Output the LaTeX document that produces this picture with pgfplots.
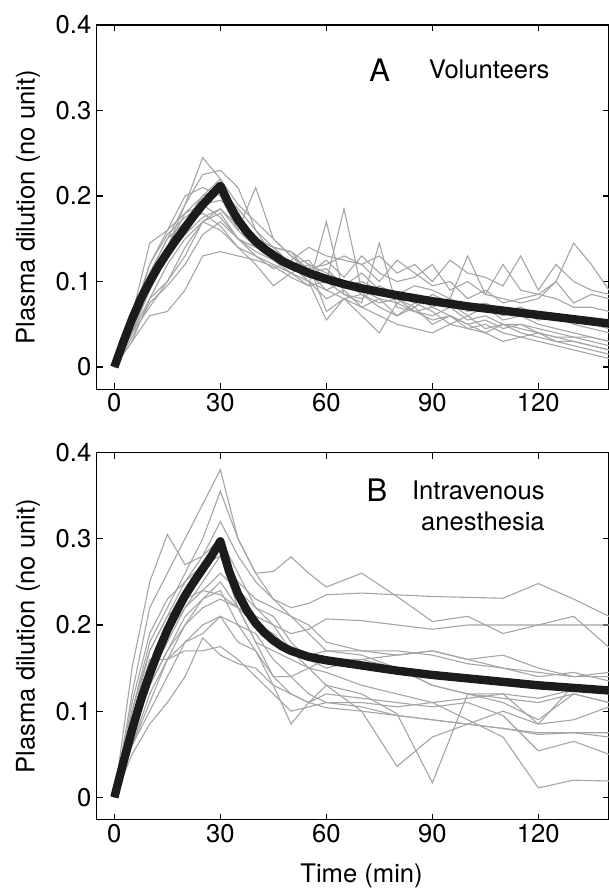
\documentclass[border=0pt]{standalone}
\usepackage{fontspec}
\setmainfont{TeX Gyre Heros}
\usepackage{pgfplots}
\usepackage{pgfplotstable}
\pgfplotsset{compat=1.18}

\definecolor{trace}{RGB}{165,165,165}
\definecolor{model}{RGB}{28,28,28}

% individual subjects, panel A (volunteers)
\pgfplotstableread{
t a1 a2 a3 a4 a5 a6 a7 a8 a9 a10 a11 a12 a13 a14
0 0 0 0 0 0 0 0 0 0 0 0 0 0 0
5 .06 .05 .04 .03 .05 .04 .06 .04 .05 .03 .05 .035 .06 .045
10 .11 .10 .09 .06 .12 .08 .145 .07 .10 .08 .11 .075 .12 .09
15 .15 .14 .13 .065 .16 .10 .16 .10 .14 .12 .15 .095 .155 .13
20 .19 .19 .17 .09 .20 .14 .18 .13 .18 .15 .17 .12 .175 .155
25 .245 .225 .20 .13 .21 .17 .19 .17 .20 .17 .18 .155 .19 .175
30 .22 .23 .22 .135 .20 .185 .195 .18 .21 .16 .165 .17 .175 .185
35 .17 .21 .19 .13 .16 .16 .18 .15 .185 .14 .14 .15 .15 .165
40 .15 .16 .17 .125 .14 .21 .15 .13 .16 .12 .13 .135 .14 .15
45 .14 .14 .15 .118 .13 .15 .14 .12 .13 .095 .115 .125 .13 .14
50 .12 .12 .13 .105 .12 .13 .135 .11 .12 .11 .125 .11 .12 .135
55 .10 .105 .115 .095 .10 .11 .11 .095 .125 .12 .14 .10 .11 .12
60 .09 .10 .12 .10 .08 .09 .125 .17 .10 .065 .13 .055 .115 .11
65 .08 .095 .13 .085 .09 .10 .105 .085 .185 .08 .125 .08 .095 .10
70 .085 .11 .12 .08 .07 .085 .13 .075 .09 .07 .12 .06 .10 .095
75 .07 .09 .10 .095 .08 .075 .11 .145 .08 .06 .13 .04 .09 .09
80 .06 .08 .125 .085 .06 .08 .10 .07 .075 .05 .11 .075 .085 .085
85 .075 .07 .11 .075 .07 .065 .105 .065 .085 .045 .12 .065 .095 .08
90 .065 .085 .095 .08 .05 .07 .12 .06 .07 .04 .10 .055 .09 .075
95 .05 .075 .10 .07 .06 .06 .09 .07 .08 .05 .125 .06 .08 .08
100 .06 .06 .08 .075 .045 .05 .10 .055 .065 .045 .11 .05 .13 .07
105 .045 .07 .09 .065 .05 .055 .085 .06 .07 .04 .105 .04 .085 .075
110 .05 .055 .075 .07 .04 .045 .12 .05 .06 .03 .095 .05 .08 .065
115 .04 .06 .08 .06 .035 .05 .09 .05 .065 .035 .13 .045 .075 .07
120 .035 .05 .085 .065 .04 .04 .085 .045 .055 .03 .09 .04 .08 .06
125 .03 .045 .08 .06 .03 .035 .10 .04 .06 .025 .12 .035 .10 .06
130 .03 .04 .07 .055 .025 .035 .075 .035 .05 .02 .10 .03 .145 .055
135 .025 .035 .07 .05 .02 .03 .085 .035 .045 .015 .09 .025 .12 .05
140 .02 .03 .065 .045 .015 .025 .08 .03 .04 .01 .085 .02 .09 .05
}\subjA

% individual subjects, panel B (intravenous anesthesia)
\pgfplotstableread{
t b1 b2 b3 b4 b5 b6 b7 b8 b9 b10 b11 b12 b13 b14 b15
0 0 0 0 0 0 0 0 0 0 0 0 0 0 0 0
5 .12 .10 .09 .15 .08 .07 .06 .05 .06 .08 .09 .10 .07 .11 .06
10 .22 .18 .17 .25 .14 .13 .10 .085 .12 .15 .16 .17 .13 .19 .11
15 .26 .22 .21 .305 .18 .17 .14 .11 .16 .19 .16 .21 .17 .23 .16
20 .30 .26 .25 .27 .22 .20 .18 .14 .18 .22 .20 .23 .21 .25 .17
25 .34 .30 .28 .28 .24 .22 .20 .185 .19 .25 .23 .24 .23 .27 .17
30 .38 .355 .32 .30 .26 .23 .21 .165 .21 .28 .25 .235 .24 .28 .175
35 .30 .30 .28 .26 .24 .22 .20 .155 .18 .22 .22 .22 .20 .25 .16
40 .26 .26 .25 .22 .22 .21 .17 .15 .17 .20 .18 .18 .19 .23 .14
45 .23 .262 .23 .20 .21 .20 .14 .13 .13 .19 .17 .14 .16 .22 .12
50 .21 .279 .22 .19 .18 .17 .14 .12 .085 .17 .16 .12 .14 .21 .10
55 .20 .26 .225 .195 .16 .165 .15 .11 .11 .15 .15 .11 .12 .19 .105
60 .18 .244 .235 .207 .15 .17 .16 .104 .13 .13 .145 .12 .11 .17 .11
70 .17 .26 .237 .205 .16 .17 .16 .10 .12 .10 .13 .115 .11 .165 .105
80 .165 .233 .235 .20 .165 .17 .15 .095 .097 .036 .12 .11 .105 .15 .095
90 .17 .204 .233 .195 .17 .165 .13 .09 .017 .07 .11 .105 .11 .13 .09
100 .16 .21 .232 .20 .16 .155 .12 .085 .12 .085 .09 .11 .115 .12 .085
110 .165 .19 .231 .20 .15 .15 .115 .08 .11 .10 .07 .095 .12 .12 .08
120 .15 .20 .248 .20 .145 .14 .11 .073 .09 .085 .011 .054 .085 .115 .075
130 .14 .21 .23 .20 .14 .145 .12 .075 .12 .09 .02 .065 .13 .125 .075
140 .145 .174 .21 .20 .14 .135 .11 .075 .11 .105 .019 .05 .12 .12 .07
}\subjB

% model curves
\pgfplotstableread{
t v
0 0
2.5 0.029
5 0.056
7.5 0.08
10 0.1
12.5 0.118
15 0.134
17.5 0.149
20 0.163
22.5 0.177
25 0.19
27.5 0.201
30 0.212
32.5 0.19
35 0.172
37.5 0.158
40 0.147
42.5 0.138
45 0.131
47.5 0.124
50 0.119
55 0.11
60 0.103
65 0.097
70 0.092
80 0.084
90 0.077
100 0.071
110 0.066
120 0.061
130 0.056
140 0.051
}\modelA

\pgfplotstableread{
t v
0 0
2.5 0.04
5 0.078
7.5 0.113
10 0.143
12.5 0.17
15 0.194
17.5 0.215
20 0.234
22.5 0.25
25 0.265
27.5 0.28
30 0.297
32.5 0.262
35 0.236
37.5 0.217
40 0.202
42.5 0.191
45 0.182
47.5 0.175
50 0.17
55 0.163
60 0.159
70 0.153
80 0.147
90 0.142
100 0.138
110 0.134
120 0.13
130 0.127
140 0.124
}\modelB

\newcommand\lblfont{\fontsize{12.8}{15}\selectfont}

\pgfplotsset{
  dil/.style={
    scale only axis, width=256.15pt,
    xmin=-5, xmax=140, ymin=-0.026, ymax=0.4,
    xtick={0,30,60,90,120}, ytick={0,0.1,0.2,0.3,0.4},
    tick align=inside, major tick length=3pt,
    tick style={black, line width=0.6pt},
    axis line style={line width=0.6pt},
    /pgf/number format/assume math mode=true,
    /pgf/number format/fixed,
    ticklabel style={font=\lblfont},
    yticklabel style={inner sep=0pt, xshift=-2.5pt},
    xticklabel style={inner sep=0pt, yshift=-2pt},
    ylabel={Plasma dilution (no unit)},
    ylabel style={font=\lblfont, at={(axis description cs:-0.121,0.5)}, anchor=base},
    anchor=north west,
  },
  subj/.style={trace, line width=0.55pt},
  fit/.style={model, line width=4.2pt, line join=round},
}

\begin{document}
\begin{tikzpicture}
\begin{axis}[dil, name=A, at={(0,0)}, height=182.15pt]
  \pgfplotsinvokeforeach{1,...,14}{
    \addplot[subj] table[x=t, y=a#1] {\subjA};
  }
  \addplot[fit] table[x=t, y=v] {\modelA};
  \node[font=\fontsize{15.5}{18}\selectfont, anchor=base] at (axis cs:75.1,0.334) {A};
  \node[font=\lblfont, anchor=base west] at (axis cs:87,0.338) {Volunteers};
\end{axis}

\begin{axis}[dil, name=B, at={(0,-213.75pt)}, height=183.65pt,
    xlabel={Time (min)},
    xlabel style={font=\lblfont, at={(axis description cs:0.517,0)}, anchor=base, yshift=-31.5pt}]
  \pgfplotsinvokeforeach{1,...,15}{
    \addplot[subj] table[x=t, y=b#1] {\subjB};
  }
  \addplot[fit] table[x=t, y=v] {\modelB};
  \node[font=\fontsize{15.5}{18}\selectfont, anchor=base] at (axis cs:74.3,0.343) {B};
  \node[font=\lblfont, anchor=base east] at (axis cs:123.8,0.345) {Intravenous};
  \node[font=\lblfont, anchor=base east] at (axis cs:123.8,0.31) {anesthesia};
\end{axis}

\pgfresetboundingbox
\useasboundingbox (-48.35pt,12.5pt) rectangle (255.8pt,-432pt);
\end{tikzpicture}
\end{document}
